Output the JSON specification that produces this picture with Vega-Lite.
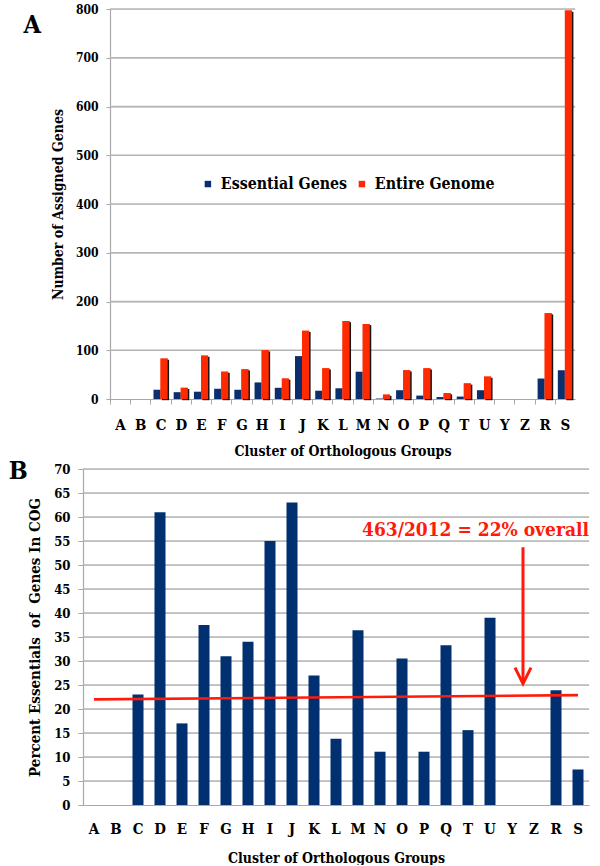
{
  "$schema": "https://vega.github.io/schema/vega-lite/v6.json",
  "background": "white",
  "padding": {"left": 0, "top": 3, "right": 0, "bottom": 0},
  "config": {
    "view": {"stroke": null},
    "font": "DejaVu Serif Condensed, DejaVu Serif, serif",
    "axis": {
      "labelFont": "DejaVu Serif Condensed, DejaVu Serif, serif",
      "titleFont": "DejaVu Serif Condensed, DejaVu Serif, serif",
      "labelFontWeight": "bold",
      "titleFontWeight": "bold",
      "labelColor": "#000000",
      "titleColor": "#000000",
      "domainColor": "#A8A8A8",
      "tickColor": "#A8A8A8"
    },
    "title": {"font": "DejaVu Serif Condensed, DejaVu Serif, serif", "color": "#000000"},
    "legend": {"labelFont": "DejaVu Serif Condensed, DejaVu Serif, serif"}
  },
  "datasets": {
    "genes": [
      {"cog": "A", "series": "Essential Genes", "count": 0},
      {"cog": "B", "series": "Essential Genes", "count": 0},
      {"cog": "C", "series": "Essential Genes", "count": 19},
      {"cog": "D", "series": "Essential Genes", "count": 14},
      {"cog": "E", "series": "Essential Genes", "count": 15},
      {"cog": "F", "series": "Essential Genes", "count": 21},
      {"cog": "G", "series": "Essential Genes", "count": 19},
      {"cog": "H", "series": "Essential Genes", "count": 34},
      {"cog": "I", "series": "Essential Genes", "count": 23},
      {"cog": "J", "series": "Essential Genes", "count": 88},
      {"cog": "K", "series": "Essential Genes", "count": 17},
      {"cog": "L", "series": "Essential Genes", "count": 22},
      {"cog": "M", "series": "Essential Genes", "count": 56},
      {"cog": "N", "series": "Essential Genes", "count": 1},
      {"cog": "O", "series": "Essential Genes", "count": 18},
      {"cog": "P", "series": "Essential Genes", "count": 7},
      {"cog": "Q", "series": "Essential Genes", "count": 4},
      {"cog": "T", "series": "Essential Genes", "count": 5},
      {"cog": "U", "series": "Essential Genes", "count": 18},
      {"cog": "Y", "series": "Essential Genes", "count": 0},
      {"cog": "Z", "series": "Essential Genes", "count": 0},
      {"cog": "R", "series": "Essential Genes", "count": 42},
      {"cog": "S", "series": "Essential Genes", "count": 59},
      {"cog": "A", "series": "Entire Genome", "count": 0},
      {"cog": "B", "series": "Entire Genome", "count": 0},
      {"cog": "C", "series": "Entire Genome", "count": 83},
      {"cog": "D", "series": "Entire Genome", "count": 23},
      {"cog": "E", "series": "Entire Genome", "count": 89},
      {"cog": "F", "series": "Entire Genome", "count": 56},
      {"cog": "G", "series": "Entire Genome", "count": 61},
      {"cog": "H", "series": "Entire Genome", "count": 100},
      {"cog": "I", "series": "Entire Genome", "count": 42},
      {"cog": "J", "series": "Entire Genome", "count": 140},
      {"cog": "K", "series": "Entire Genome", "count": 63},
      {"cog": "L", "series": "Entire Genome", "count": 160},
      {"cog": "M", "series": "Entire Genome", "count": 154},
      {"cog": "N", "series": "Entire Genome", "count": 9},
      {"cog": "O", "series": "Entire Genome", "count": 59},
      {"cog": "P", "series": "Entire Genome", "count": 63},
      {"cog": "Q", "series": "Entire Genome", "count": 12},
      {"cog": "T", "series": "Entire Genome", "count": 32},
      {"cog": "U", "series": "Entire Genome", "count": 46},
      {"cog": "Y", "series": "Entire Genome", "count": 0},
      {"cog": "Z", "series": "Entire Genome", "count": 0},
      {"cog": "R", "series": "Entire Genome", "count": 176},
      {"cog": "S", "series": "Entire Genome", "count": 797}
    ],
    "pct": [
      {"cog": "A", "pct": 0},
      {"cog": "B", "pct": 0},
      {"cog": "C", "pct": 23},
      {"cog": "D", "pct": 61},
      {"cog": "E", "pct": 17},
      {"cog": "F", "pct": 37.5},
      {"cog": "G", "pct": 31},
      {"cog": "H", "pct": 34},
      {"cog": "I", "pct": 55},
      {"cog": "J", "pct": 63},
      {"cog": "K", "pct": 27},
      {"cog": "L", "pct": 13.8},
      {"cog": "M", "pct": 36.4},
      {"cog": "N", "pct": 11.1},
      {"cog": "O", "pct": 30.5},
      {"cog": "P", "pct": 11.1},
      {"cog": "Q", "pct": 33.3},
      {"cog": "T", "pct": 15.6},
      {"cog": "U", "pct": 39},
      {"cog": "Y", "pct": 0},
      {"cog": "Z", "pct": 0},
      {"cog": "R", "pct": 23.9},
      {"cog": "S", "pct": 7.4}
    ],
    "gridA": [{"v": 100}, {"v": 200}, {"v": 300}, {"v": 400}, {"v": 500}, {"v": 600}, {"v": 700}, {"v": 800}],
    "gridB": [{"v": 5}, {"v": 10}, {"v": 15}, {"v": 20}, {"v": 25}, {"v": 30}, {"v": 35}, {"v": 40}, {"v": 45}, {"v": 50}, {"v": 55}, {"v": 60}, {"v": 65}, {"v": 70}],
    "overall": [{"from": "A", "to": "S", "start": 22.0, "end": 22.9}],
    "arrow": [{"cog": "Y", "top": 53.7, "tip": 25.3}],
    "note": [{"cog": "S", "y": 57.3, "label": "463/2012 = 22% overall"}],
    "empty": []
  },
  "spacing": 1,
  "vconcat": [
    {
      "spacing": 22,
      "hconcat": [
        {
          "width": 1,
          "height": 1,
          "data": {"name": "empty"},
          "mark": "point",
          "encoding": {}
        },
        {
          "width": 465,
          "height": 390,
          "title": {"text": "A", "anchor": "start", "frame": "bounds", "fontSize": 25, "fontWeight": "bold", "dx": -28, "dy": 35, "offset": 0},
          "data": {"name": "genes"},
          "layer": [
            {
              "data": {"name": "gridA"},
              "mark": {"type": "rule", "color": "#B4B4B4", "strokeWidth": 1.5},
              "encoding": {
                "y": {"field": "v", "type": "quantitative"}
              }
            },
            {
              "mark": {"type": "bar"},
              "encoding": {
                "x": {
                  "field": "cog", "type": "nominal",
                  "scale": {"domain": ["A","B","C","D","E","F","G","H","I","J","K","L","M","N","O","P","Q","T","U","Y","Z","R","S"], "paddingInner": 0.3, "paddingOuter": 0.15},
                  "axis": {"title": "Cluster of Orthologous Groups", "labelAngle": 0, "labelFontSize": 15, "titleFontSize": 14, "tickSize": 5, "tickOffset": -10.1, "labelOffset": 10.1, "labelPadding": 13, "titlePadding": 12, "domainWidth": 1.2}
                },
                "xOffset": {"field": "series", "type": "nominal", "scale": {"domain": ["Essential Genes", "Entire Genome"], "paddingInner": 0, "paddingOuter": 0}},
                "y": {
                  "field": "count", "type": "quantitative",
                  "scale": {"domain": [0, 800], "nice": false},
                  "axis": {"title": "Number of Assigned Genes", "grid": true, "tickCount": 8, "labelOverlap": false, "labelFontSize": 12, "titleFontSize": 14, "tickSize": 4, "labelPadding": 8, "titlePadding": 10, "domainWidth": 1.2}
                },
                "color": {
                  "field": "series", "type": "nominal",
                  "scale": {"domain": ["Essential Genes", "Entire Genome"], "range": ["#0B2F6E", "#FF2A00"]},
                  "legend": {"title": null, "orient": "none", "legendX": 200, "legendY": 167, "direction": "horizontal", "symbolType": "square", "symbolSize": 42, "symbolStrokeWidth": 0, "labelFontSize": 15.8, "labelFontWeight": "bold", "labelColor": "#000000", "labelOffset": 5, "columnPadding": 6, "padding": 0}
                }
              }
            },
            {
              "transform": [{"filter": "datum.series == 'Entire Genome'"}],
              "mark": {"type": "bar", "color": "#151515", "width": {"band": 0.5}, "xOffset": 5, "yOffset": 1.2},
              "encoding": {
                "x": {"field": "cog", "type": "nominal"},
                "y": {"field": "count", "type": "quantitative"}
              }
            },
            {
              "transform": [{"filter": "datum.series == 'Entire Genome'"}],
              "mark": {"type": "bar", "color": "#FF2A00", "width": {"band": 0.5}, "xOffset": 3.535},
              "encoding": {
                "x": {"field": "cog", "type": "nominal"},
                "y": {"field": "count", "type": "quantitative"}
              }
            }
          ]
        }
      ]
    },
    {
      "spacing": 7,
      "hconcat": [
        {
          "width": 1,
          "height": 1,
          "data": {"name": "empty"},
          "mark": "point",
          "encoding": {}
        },
        {
          "width": 506,
          "height": 336,
          "title": {"text": "B", "anchor": "start", "frame": "bounds", "fontSize": 25, "fontWeight": "bold", "dx": -19, "dy": 21, "offset": 0},
          "layer": [
            {
              "data": {"name": "gridB"},
              "mark": {"type": "rule", "color": "#B4B4B4", "strokeWidth": 1.5},
              "encoding": {
                "y": {"field": "v", "type": "quantitative"}
              }
            },
            {
              "data": {"name": "pct"},
              "mark": {"type": "bar", "color": "#00306F"},
              "encoding": {
                "x": {
                  "field": "cog", "type": "nominal",
                  "scale": {"domain": ["A","B","C","D","E","F","G","H","I","J","K","L","M","N","O","P","Q","T","U","Y","Z","R","S"], "paddingInner": 0.5, "paddingOuter": 0.25},
                  "axis": {"title": "Cluster of Orthologous Groups", "labelAngle": 0, "labelFontSize": 15, "titleFontSize": 14, "ticks": false, "labelPadding": 16, "titlePadding": 15, "domainWidth": 1.2}
                },
                "y": {
                  "field": "pct", "type": "quantitative",
                  "scale": {"domain": [0, 70], "nice": false},
                  "axis": {"title": "Percent Essentials \u00a0of \u00a0Genes In COG", "grid": true, "tickCount": 14, "labelOverlap": false, "labelFontSize": 13, "titleFontSize": 15, "tickSize": 5, "labelPadding": 8, "titlePadding": 11, "domainWidth": 1.2}
                }
              }
            },
            {
              "data": {"name": "overall"},
              "mark": {"type": "rule", "color": "#FF1A0A", "strokeWidth": 2.6},
              "encoding": {
                "x": {"field": "from", "type": "nominal"},
                "x2": {"field": "to"},
                "y": {"field": "start", "type": "quantitative"},
                "y2": {"field": "end"}
              }
            },
            {
              "data": {"name": "arrow"},
              "mark": {"type": "rule", "color": "#FF1A0A", "strokeWidth": 3},
              "encoding": {
                "x": {"field": "cog", "type": "nominal", "bandPosition": 1.5},
                "y": {"field": "top", "type": "quantitative"},
                "y2": {"field": "tip"}
              }
            },
            {
              "data": {"name": "arrow"},
              "mark": {"type": "point", "shape": "M-0.5,-1L0,0L0.5,-1", "size": 1024, "filled": false, "stroke": "#FF1A0A", "strokeWidth": 3, "opacity": 1},
              "encoding": {
                "x": {"field": "cog", "type": "nominal", "bandPosition": 1.5},
                "y": {"field": "tip", "type": "quantitative"}
              }
            },
            {
              "data": {"name": "note"},
              "mark": {"type": "text", "color": "#FF1A0A", "fontSize": 19, "fontWeight": "bold", "align": "right", "baseline": "middle", "font": "DejaVu Serif Condensed, DejaVu Serif, serif"},
              "encoding": {
                "x": {"field": "cog", "type": "nominal", "bandPosition": 1.5},
                "y": {"field": "y", "type": "quantitative"},
                "text": {"field": "label"}
              }
            }
          ]
        }
      ]
    }
  ]
}
